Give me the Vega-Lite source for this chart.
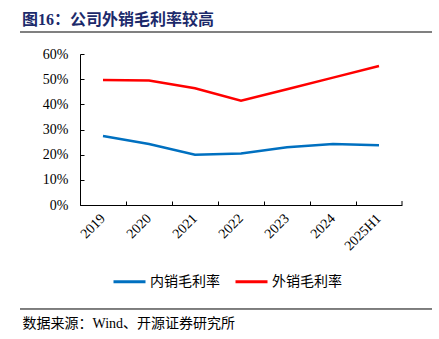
{
  "$schema": "https://vega.github.io/schema/vega-lite/v6.json",
  "width": 322,
  "height": 151,
  "autosize": {"type": "none"},
  "padding": {"left": 80, "top": 54, "right": 37, "bottom": 134},
  "background": "white",
  "config": {
    "view": {"stroke": null},
    "axisY": {
      "labelFont": "Liberation Serif, serif",
      "labelFontSize": 14,
      "labelColor": "#000000",
      "labelPadding": 16,
      "labelOverlap": false,
      "tickSize": -4,
      "tickColor": "#000000",
      "domainColor": "#000000",
      "grid": false
    }
  },
  "title": {
    "text": "图16：公司外销毛利率较高",
    "anchor": "start",
    "frame": "group",
    "dx": -58,
    "offset": 3,
    "font": "Liberation Serif, Noto Sans CJK SC",
    "fontSize": 16,
    "fontWeight": "bold",
    "color": "#1C2A6B"
  },
  "layer": [
    {
      "data": {
        "values": [
          {"year": "2019", "type": "内销毛利率", "value": 0.274},
          {"year": "2020", "type": "内销毛利率", "value": 0.242},
          {"year": "2021", "type": "内销毛利率", "value": 0.200},
          {"year": "2022", "type": "内销毛利率", "value": 0.205},
          {"year": "2023", "type": "内销毛利率", "value": 0.229},
          {"year": "2024", "type": "内销毛利率", "value": 0.242},
          {"year": "2025H1", "type": "内销毛利率", "value": 0.237},
          {"year": "2019", "type": "外销毛利率", "value": 0.497},
          {"year": "2020", "type": "外销毛利率", "value": 0.495},
          {"year": "2021", "type": "外销毛利率", "value": 0.464},
          {"year": "2022", "type": "外销毛利率", "value": 0.414},
          {"year": "2023", "type": "外销毛利率", "value": 0.460},
          {"year": "2024", "type": "外销毛利率", "value": 0.506},
          {"year": "2025H1", "type": "外销毛利率", "value": 0.552}
        ]
      },
      "mark": {"type": "line", "strokeWidth": 2.5},
      "encoding": {
        "x": {
          "field": "year",
          "type": "nominal",
          "sort": null,
          "scale": {"type": "band", "paddingInner": 0, "paddingOuter": 0},
          "axis": {
            "title": "数据来源：Wind、开源证券研究所",
            "titleX": -58,
            "titleY": 118,
            "titleAlign": "left",
            "titleBaseline": "middle",
            "titleAngle": 0,
            "titleFont": "Liberation Serif, Noto Sans CJK SC",
            "titleFontSize": 14,
            "titleFontWeight": "normal",
            "titleColor": "#000000",
            "bandPosition": 0,
            "labelOffset": 0,
            "labelAngle": -45,
            "labelAlign": "right",
            "labelBaseline": "middle",
            "labelFont": "Liberation Serif, serif",
            "labelFontSize": 14,
            "labelColor": "#000000",
            "labelPadding": 15,
            "labelOverlap": false,
            "tickSize": -4,
            "tickColor": "#000000",
            "domainColor": "#000000",
            "grid": false
          }
        },
        "y": {
          "field": "value",
          "type": "quantitative",
          "scale": {"domain": [0, 0.6], "nice": false},
          "axis": {"title": null, "values": [0, 0.1, 0.2, 0.3, 0.4, 0.5, 0.6], "format": ".0%"}
        },
        "color": {
          "field": "type",
          "type": "nominal",
          "scale": {"domain": ["内销毛利率", "外销毛利率"], "range": ["#0070C0", "#FF0000"]},
          "legend": {
            "title": null,
            "orient": "none",
            "legendX": 32,
            "legendY": 210,
            "direction": "horizontal",
            "symbolType": "stroke",
            "symbolSize": 1024,
            "symbolStrokeWidth": 3,
            "labelFont": "Noto Sans CJK SC",
            "labelFontSize": 14,
            "labelColor": "#000000",
            "labelOffset": 3,
            "columnPadding": 9
          }
        }
      }
    },
    {
      "data": {"values": [{}]},
      "layer": [
        {
          "mark": {"type": "rule", "color": "#808080", "strokeWidth": 2},
          "encoding": {
            "x": {"datum": -0.1863, "type": "quantitative", "scale": {"domain": [0, 1], "nice": false, "zero": false}, "axis": null},
            "x2": {"datum": 1.0932},
            "y": {"datum": 0.6874, "type": "quantitative", "axis": {"title": null, "values": [0, 0.1, 0.2, 0.3, 0.4, 0.5, 0.6], "format": ".0%"}}
          }
        },
        {
          "mark": {"type": "rule", "color": "#000000", "strokeWidth": 1},
          "encoding": {
            "x": {"datum": -0.1863, "type": "quantitative", "axis": null},
            "x2": {"datum": 1.0932},
            "y": {"datum": -0.4132, "type": "quantitative", "axis": {"title": null, "values": [0, 0.1, 0.2, 0.3, 0.4, 0.5, 0.6], "format": ".0%"}}
          }
        },
        {
          "mark": {"type": "rule", "color": "#000000", "strokeWidth": 1},
          "encoding": {
            "x": {"datum": 1, "type": "quantitative", "axis": null},
            "y": {"datum": 0, "type": "quantitative", "axis": {"title": null, "values": [0, 0.1, 0.2, 0.3, 0.4, 0.5, 0.6], "format": ".0%"}},
            "y2": {"datum": 0.0159}
          }
        }
      ]
    }
  ],
  "resolve": {"scale": {"x": "independent"}}
}
